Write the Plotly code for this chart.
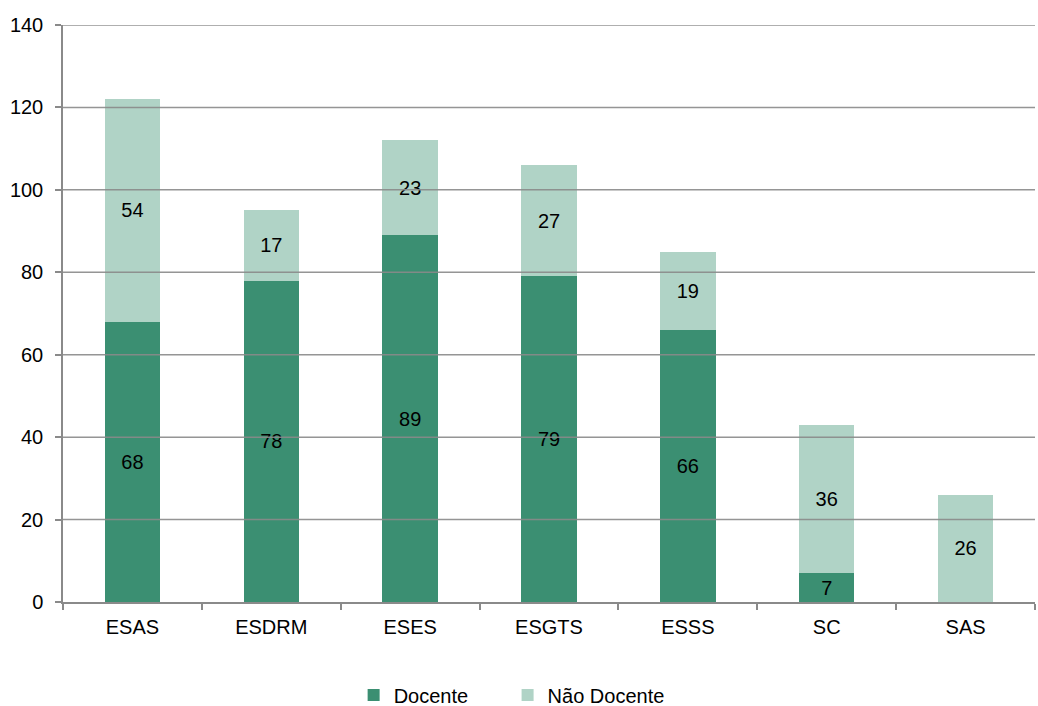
import plotly.graph_objects as go

categories = ["ESAS", "ESDRM", "ESES", "ESGTS", "ESSS", "SC", "SAS"]
docente = [68, 78, 89, 79, 66, 7, 0]
nao_docente = [54, 17, 23, 27, 19, 36, 26]
y_ticks = [0, 20, 40, 60, 80, 100, 120, 140]

FONT = "Liberation Sans, Arial, sans-serif"
FS = 20
DARK = "#3b8f72"
LIGHT = "#b0d3c6"
GRID = "#8a8a8a"

def labels(vals):
    return [str(v) if v else "" for v in vals]

fig = go.Figure()
fig.add_trace(go.Bar(
    name="Docente", x=categories, y=docente, marker_color=DARK,
    marker_line_width=0, legend="legend",
    text=labels(docente), textposition="inside", insidetextanchor="middle",
    textfont=dict(family=FONT, size=FS, color="black"), textangle=0,
))
fig.add_trace(go.Bar(
    name="Não Docente", x=categories, y=nao_docente, marker_color=LIGHT,
    marker_line_width=0, legend="legend2",
    text=labels(nao_docente), textposition="inside", insidetextanchor="middle",
    textfont=dict(family=FONT, size=FS, color="black"), textangle=0,
))

# gridlines drawn above the bars, as in the reference
for t in y_ticks[1:]:
    fig.add_shape(type="line", xref="paper", x0=0, x1=1, yref="y", y0=t, y1=t,
                  line=dict(color=GRID, width=1.5), layer="above", opacity=0.9)

legend_common = dict(orientation="h", xanchor="left", y=-0.161, yanchor="middle",
                     font=dict(family=FONT, size=FS, color="black"), itemwidth=30)

fig.update_layout(
    barmode="stack", bargap=0.6,
    width=1038, height=706,
    margin=dict(l=63, r=3, t=25, b=104, autoexpand=False),
    plot_bgcolor="white", paper_bgcolor="white",
    font=dict(family=FONT, size=FS, color="black"),
    uniformtext=dict(minsize=FS, mode="show"),
    legend=dict(x=0.299, **legend_common),
    legend2=dict(x=0.4574, **legend_common),
    showlegend=True,
)
fig.update_xaxes(
    showgrid=False, showline=True, linecolor=GRID, linewidth=1.5,
    ticks="outside", tickson="boundaries", ticklen=6, tickcolor=GRID, tickwidth=1.5,
    tickfont=dict(family=FONT, size=FS, color="black"), automargin=False,
    ticklabelstandoff=6,
)
fig.update_yaxes(
    range=[0, 140], tickvals=y_ticks, showgrid=False, zeroline=False,
    showline=True, linecolor=GRID, linewidth=1.5,
    ticks="outside", ticklen=6, tickcolor=GRID, tickwidth=1.5,
    tickfont=dict(family=FONT, size=FS, color="black"), automargin=False,
    ticklabelstandoff=8,
)

fig.write_html("out.html")
